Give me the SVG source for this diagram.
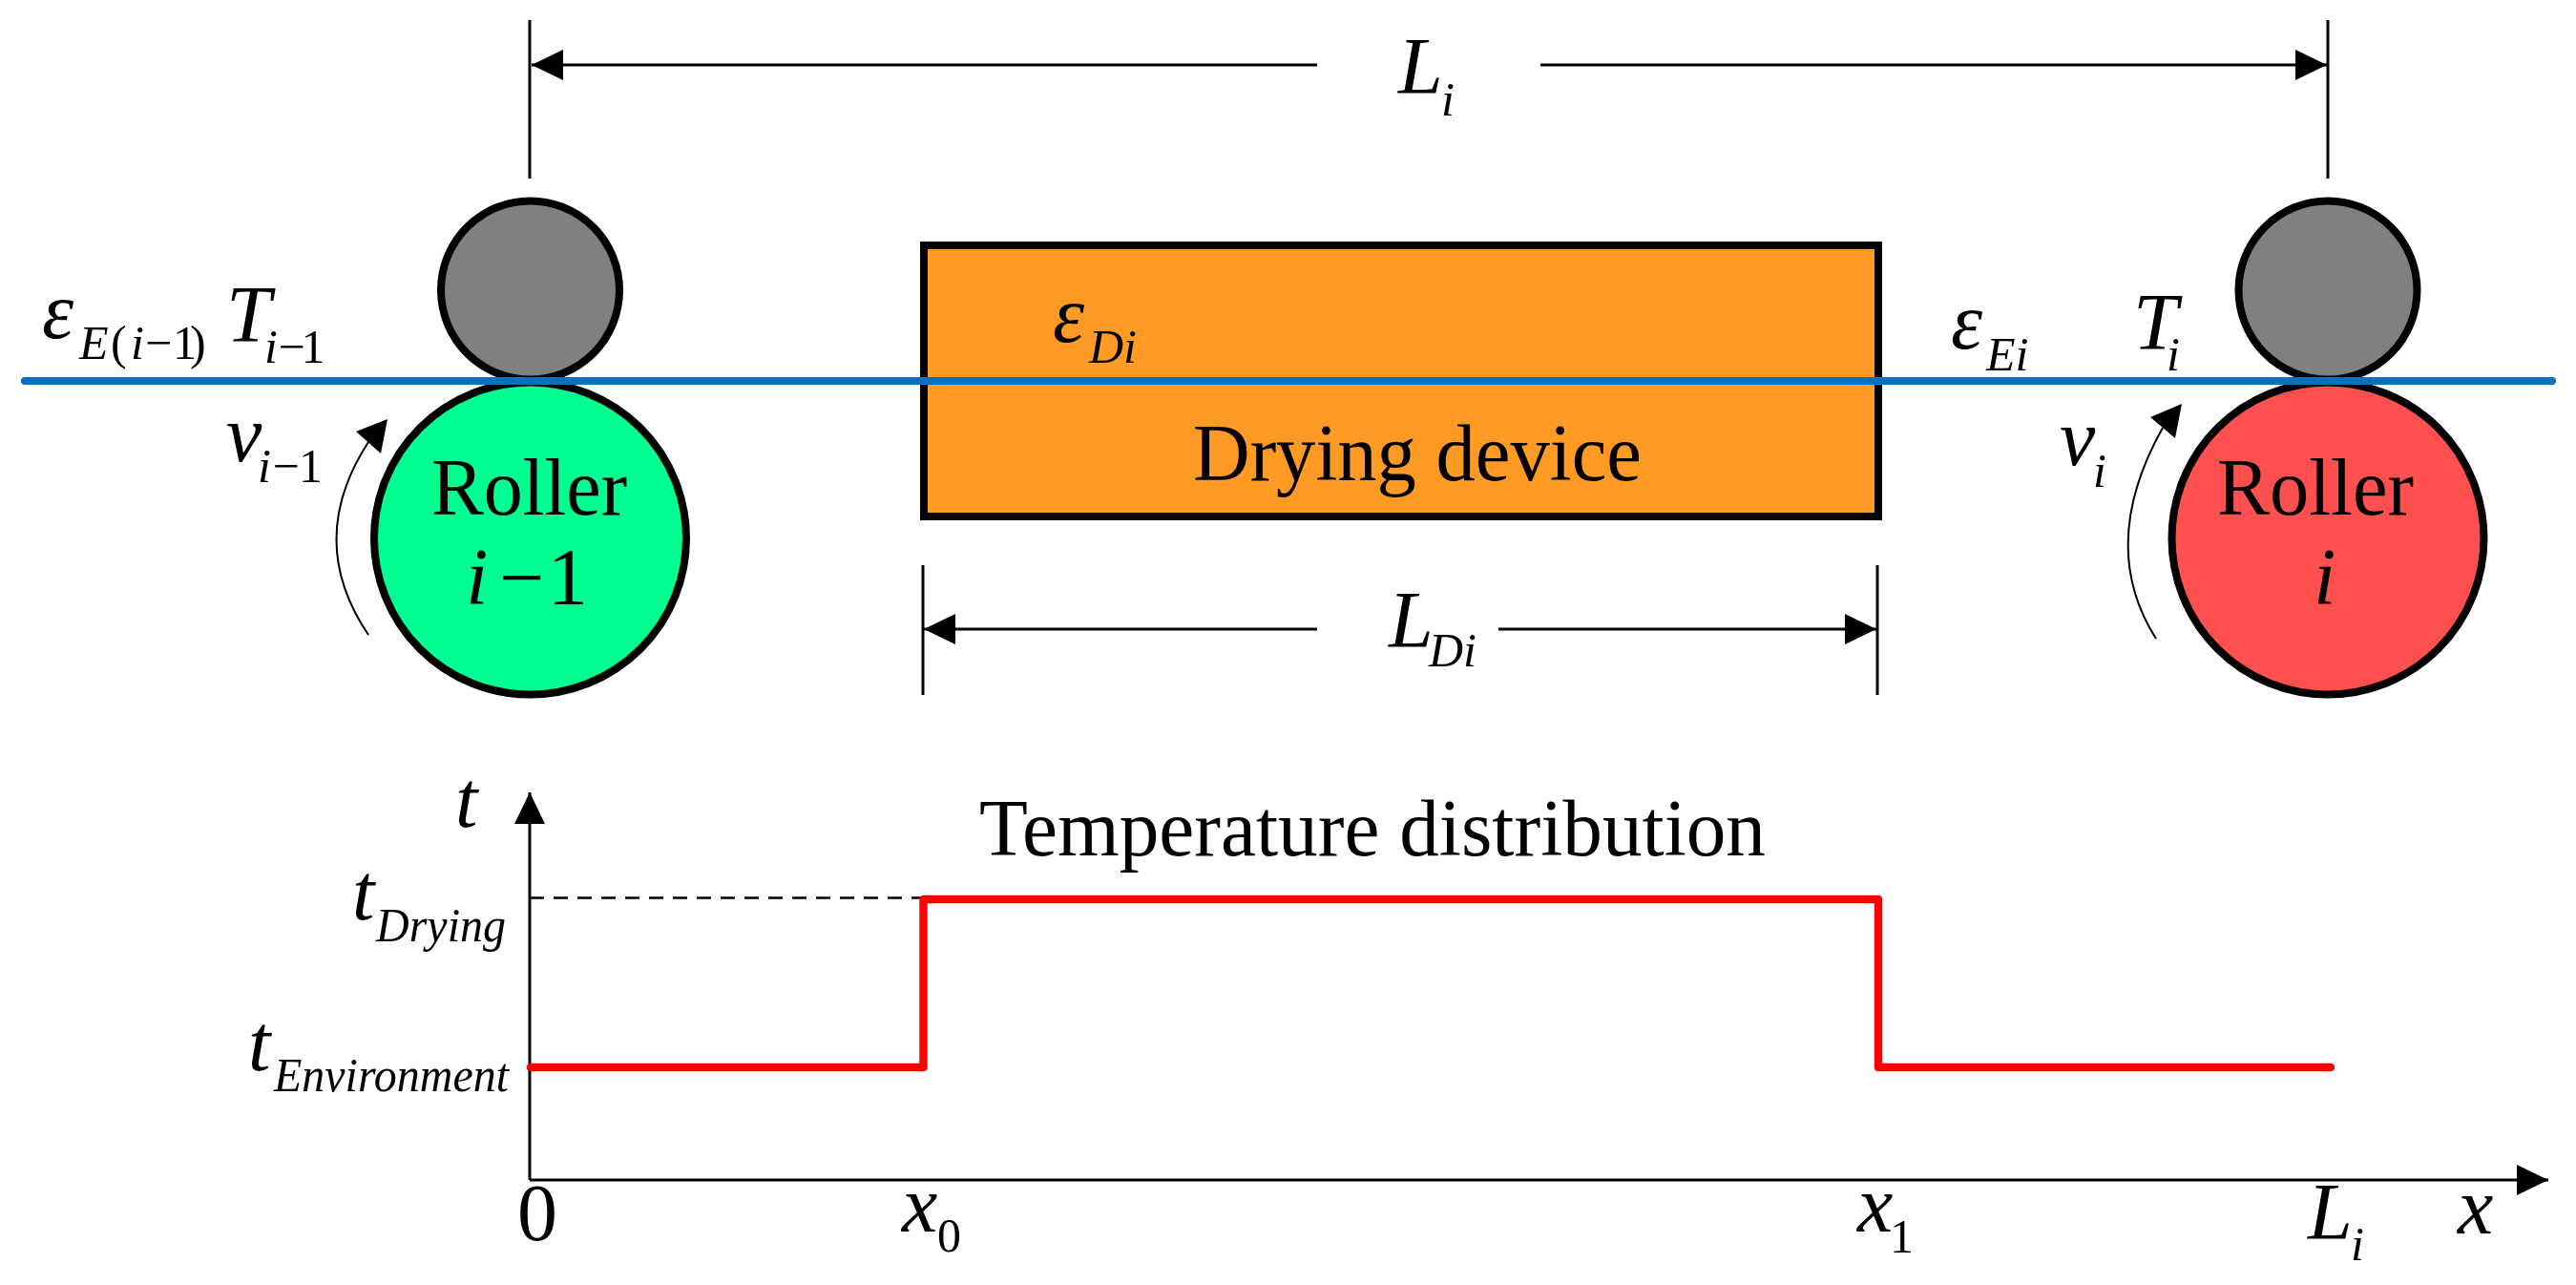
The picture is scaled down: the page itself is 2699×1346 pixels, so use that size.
<svg xmlns="http://www.w3.org/2000/svg" width="2699" height="1346" viewBox="0 0 2699 1346">
<style>
text{font-family:"Liberation Serif","Times New Roman",serif;fill:#000}
.it{font-style:italic}
.b{font-size:84px}
.s{font-size:50px}
.th{stroke:#000;stroke-width:3;fill:none}
.roll{stroke:#000;stroke-width:8}
</style>
<defs>
<marker id="ah" markerUnits="userSpaceOnUse" markerWidth="34" markerHeight="34" refX="33" refY="17" orient="auto-start-reverse"><path d="M0 1L33 17L0 33Z" fill="#000"/></marker>
</defs>
<rect width="2699" height="1346" fill="#fff"/>
<g id="roller-left">
<circle class="roll" cx="555.500" cy="304" r="93.500" fill="#808080"/>
<circle class="roll" cx="555.500" cy="564" r="163.500" fill="#00FF90"/>
<text class="b" x="452" y="539" textLength="205" lengthAdjust="spacingAndGlyphs">Roller</text>
<text class="b" y="633"><tspan class="it" x="488">i</tspan><tspan x="523">−</tspan><tspan x="574">1</tspan></text>
</g>
<g id="roller-right">
<circle class="roll" cx="2439" cy="304" r="93.500" fill="#808080"/>
<circle class="roll" cx="2439" cy="564" r="163.500" fill="#FF5050"/>
<text class="b" x="2323" y="539" textLength="206" lengthAdjust="spacingAndGlyphs">Roller</text>
<text class="b it" x="2424" y="633">i</text>
</g>
<g id="drying-device">
<rect x="968" y="257" width="1000" height="284" fill="#FF9A24" stroke="#000" stroke-width="8"/>
<text class="b" x="1250" y="503" textLength="470" lengthAdjust="spacingAndGlyphs">Drying device</text>
</g>
<g id="connectors">
<path d="M26 399H2674" stroke="#0070C0" stroke-width="8" stroke-linecap="round" fill="none"/>
<path class="th" d="M555 21V187M2439 21V187M967 592V728M1967 592V728"/>
<path class="th" d="M1380 68H557" marker-end="url(#ah)"/>
<path class="th" d="M1614 68H2438" marker-end="url(#ah)"/>
<path class="th" d="M1380 659H968" marker-end="url(#ah)"/>
<path class="th" d="M1570 659H1966" marker-end="url(#ah)"/>
<path d="M386 665Q319 566 386 463" stroke="#000" stroke-width="2" fill="none"/>
<path d="M406 439L373 452L399 475Z" fill="#000"/>
<path d="M2259 669Q2197 571 2266 448" stroke="#000" stroke-width="2" fill="none"/>
<path d="M2286 423L2253 437L2279 459Z" fill="#000"/>
<path class="th" d="M555 1236V830" marker-end="url(#ah)"/>
<path d="M555 1236H2670" stroke="#000" stroke-width="3" fill="none" marker-end="url(#ah)"/>
<path d="M555 940.500H967" stroke="#000" stroke-width="2.500" stroke-dasharray="15 10" fill="none"/>
<path d="M556 1118H967.500V942H1968V1118H2442" stroke="#FF0000" stroke-width="8.500" stroke-linecap="round" stroke-linejoin="round" fill="none"/>
</g>
<g id="labels">
<text><tspan class="b it" x="44" y="354">ε</tspan><tspan class="s it" x="83" y="376">E</tspan><tspan class="s" x="116" y="376">(</tspan><tspan class="s it" x="137" y="376">i</tspan><tspan class="s" x="152" y="376">−</tspan><tspan class="s" x="181" y="376">1</tspan><tspan class="s" x="199" y="376">)</tspan></text>
<text><tspan class="b it" x="237" y="358">T</tspan><tspan class="s it" x="277" y="380">i</tspan><tspan class="s" x="291.500" y="380">−</tspan><tspan class="s" x="315.500" y="380">1</tspan></text>
<text><tspan class="b it" x="237" y="483">v</tspan><tspan class="s it" x="270" y="505">i</tspan><tspan class="s" x="285.500" y="505">−</tspan><tspan class="s" x="313" y="505">1</tspan></text>
<text><tspan class="b it" x="2044" y="365">ε</tspan><tspan class="s it" x="2081" y="388">Ei</tspan></text>
<text><tspan class="b it" x="2235" y="366">T</tspan><tspan class="s it" x="2270" y="388">i</tspan></text>
<text><tspan class="b it" x="2158" y="487">v</tspan><tspan class="s it" x="2193" y="510">i</tspan></text>
<text><tspan class="b it" x="1103" y="358">ε</tspan><tspan class="s it" x="1141" y="380">Di</tspan></text>
<text><tspan class="b it" x="1465" y="98">L</tspan><tspan class="s it" x="1510" y="121">i</tspan></text>
<text><tspan class="b it" x="1455" y="678">L</tspan><tspan class="s it" x="1497" y="698">Di</tspan></text>
<text class="b" x="1026" y="896" textLength="824" lengthAdjust="spacingAndGlyphs">Temperature distribution</text>
<text class="b it" x="477" y="866">t</text>
<text><tspan class="b it" x="369" y="963">t</tspan><tspan class="s it" x="394" y="986" textLength="136" lengthAdjust="spacingAndGlyphs">Drying</tspan></text>
<text><tspan class="b it" x="260" y="1121">t</tspan><tspan class="s it" x="287" y="1143" textLength="246" lengthAdjust="spacingAndGlyphs">Environment</tspan></text>
<text class="b" x="542" y="1299">0</text>
<text><tspan class="b it" x="945" y="1290">x</tspan><tspan class="s" x="982" y="1311">0</tspan></text>
<text><tspan class="b it" x="1946" y="1290">x</tspan><tspan class="s" x="1980" y="1312">1</tspan></text>
<text><tspan class="b it" x="2418" y="1298">L</tspan><tspan class="s it" x="2463" y="1320">i</tspan></text>
<text class="b it" x="2575" y="1292">x</text>
</g>
</svg>
